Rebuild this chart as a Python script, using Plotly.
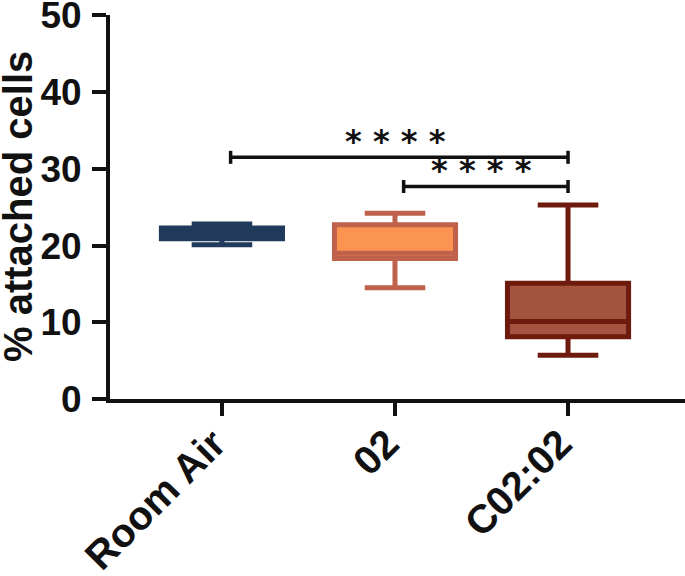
import plotly.graph_objects as go

# Groups and box statistics (% attached cells)
groups = ["Room Air", "02", "C02:02"]
lower_whisker = [20.1, 14.5, 5.7]
q1 = [20.9, 18.3, 8.1]
median = [21.6, 19.0, 10.1]
q3 = [22.3, 22.7, 15.1]
upper_whisker = [22.8, 24.2, 25.3]

line_colors = ["#203a5b", "#c0614b", "#6e1a0c"]
fill_colors = ["#203a5b", "#fb9450", "#a4533f"]

# Significance comparisons: (from group, to group, bar height, label)
comp_from = [0, 1]
comp_to = [2, 2]
comp_height = [31.5, 27.7]
comp_label = ["* * * *", "* * * *"]

FONT = "Arial, Liberation Sans, sans-serif"

fig = go.Figure()

for i, g in enumerate(groups):
    fig.add_trace(go.Box(
        x=[i],
        q1=[q1[i]],
        median=[median[i]],
        q3=[q3[i]],
        lowerfence=[lower_whisker[i]],
        upperfence=[upper_whisker[i]],
        name=g,
        width=0.7,
        whiskerwidth=0.5,
        fillcolor=fill_colors[i],
        line=dict(color=line_colors[i], width=5),
        boxpoints=False,
        hoverinfo="skip",
    ))

# significance brackets
for a, b, h, lab in zip(comp_from, comp_to, comp_height, comp_label):
    a = a + 0.05
    d = 0.85
    fig.add_trace(go.Scatter(
        x=[a, a, None, a, b, None, b, b],
        y=[h - d, h + d, None, h, h, None, h - d, h + d],
        mode="lines",
        line=dict(color="#111111", width=3.5),
        hoverinfo="skip",
        showlegend=False,
    ))
    fig.add_annotation(
        x=(a + b) / 2, y=h,
        text=lab,
        showarrow=False,
        yanchor="bottom",
        yshift=-5,
        xshift=-4,
        font=dict(family="DejaVu Sans", size=32, weight="bold", color="#111111"),
    )

# y axis title as an annotation so it sits where the original has it
fig.add_annotation(
    text="% attached cells",
    xref="paper", yref="paper",
    x=0, y=0.5,
    xshift=-92,
    textangle=-90,
    showarrow=False,
    xanchor="center", yanchor="middle",
    font=dict(family=FONT, size=40, weight="bold", color="#111111"),
)

fig.update_layout(
    width=685,
    height=576,
    margin=dict(l=110, r=0, t=15, b=177),
    plot_bgcolor="white",
    paper_bgcolor="white",
    showlegend=False,
    boxmode="overlay",
    font=dict(family=FONT, color="#111111"),
)

fig.update_xaxes(
    range=[-0.647, 2.676],
    tickvals=[0, 1, 2],
    ticktext=groups,
    tickangle=-45,
    ticks="outside",
    ticklen=13,
    tickwidth=4,
    tickcolor="#111111",
    showline=True,
    linewidth=4,
    linecolor="#111111",
    showgrid=False,
    zeroline=False,
    automargin=False,
    ticklabelstandoff=-12,
    ticklabelshift=-8,
    tickfont=dict(family=FONT, size=40, weight="bold", color="#111111"),
)

fig.update_yaxes(
    range=[0, 50.05],
    tickvals=[0, 10, 20, 30, 40, 50],
    ticks="outside",
    ticklen=14,
    tickwidth=4,
    tickcolor="#111111",
    showline=True,
    linewidth=4,
    linecolor="#111111",
    showgrid=False,
    zeroline=False,
    automargin=False,
    ticklabeloverflow="allow",
    ticklabelstandoff=3,
    tickfont=dict(family=FONT, size=37, weight="bold", color="#111111"),
)

# drop the default 8px page margin so the figure fills the window
fig.write_html(
    "out.html",
    config={"displayModeBar": False},
    post_script="document.body.style.margin='0';",
)
